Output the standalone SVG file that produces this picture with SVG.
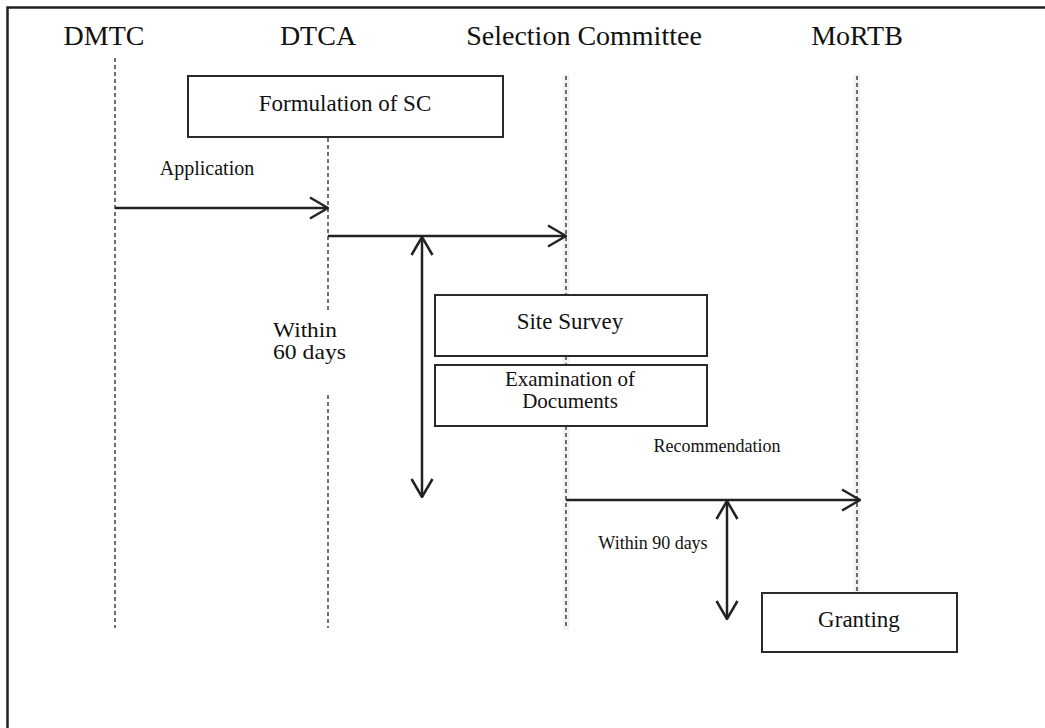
<svg xmlns="http://www.w3.org/2000/svg" width="1045" height="728" viewBox="0 0 1045 728">
  <defs>
    <marker id="chev" viewBox="0 0 20 24" refX="19" refY="12" markerWidth="20" markerHeight="24" markerUnits="userSpaceOnUse" orient="auto-start-reverse">
      <path d="M1,1.5 L19,12 L1,22.5" fill="none" stroke="#222" stroke-width="2.5"/>
    </marker>
  </defs>
  <style>
    .head { font-family: "Liberation Serif", "Times New Roman", serif; font-size: 28px; fill: #111; text-anchor: middle; }
    .lbl { font-family: "Liberation Serif", "Times New Roman", serif; fill: #111; text-anchor: middle; }
    .lbl-left { font-family: "Liberation Serif", "Times New Roman", serif; fill: #111; text-anchor: start; }
    .life { stroke: #333; stroke-width: 1.4; stroke-dasharray: 4 3; fill: none; }
    .halo { stroke: #f3f3f3; stroke-width: 7; fill: none; }
    .box { fill: #fff; stroke: #2a2a2a; stroke-width: 2; }
    .msg { stroke: #222; stroke-width: 2.5; fill: none; }
  </style>
  <rect width="1045" height="728" fill="#fff"/>

  <!-- frame (left and top edges) -->
  <path d="M7.5,728 L7.5,7.5 L1045,7.5" fill="none" stroke="#222" stroke-width="2.5"/>

  <!-- participant headers -->
  <g id="participants">
    <text class="head" x="104" y="45">DMTC</text>
    <text class="head" x="318" y="45">DTCA</text>
    <text class="head" x="584" y="45">Selection Committee</text>
    <text class="head" x="857" y="45">MoRTB</text>
  </g>

  <!-- lifelines -->
  <g id="lifelines">
    <line class="halo" x1="566" y1="74" x2="566" y2="630"/>
    <line class="halo" x1="857" y1="74" x2="857" y2="592"/>
    <line class="life" x1="115" y1="58" x2="115" y2="628"/>
    <line class="life" x1="328" y1="138" x2="328" y2="313"/>
    <line class="life" x1="328" y1="395" x2="328" y2="628"/>
    <line class="life" x1="566" y1="76" x2="566" y2="628"/>
    <line class="life" x1="857" y1="76" x2="857" y2="592"/>
  </g>

  <g id="formulation">
    <rect class="box" x="188" y="76" width="315" height="61"/>
    <text class="lbl" x="345" y="111" font-size="23">Formulation of SC</text>
  </g>

  <g id="site-survey">
    <rect class="box" x="435" y="295" width="272" height="61"/>
    <text class="lbl" x="570" y="329" font-size="23">Site Survey</text>
  </g>

  <g id="examination">
    <rect class="box" x="435" y="365" width="272" height="61"/>
    <text class="lbl" x="570" y="386" font-size="21">Examination of</text>
    <text class="lbl" x="570" y="408" font-size="21">Documents</text>
  </g>

  <g id="granting">
    <rect class="box" x="762" y="593" width="195" height="59"/>
    <text class="lbl" x="859" y="627" font-size="23">Granting</text>
  </g>

  <!-- messages and durations -->
  <g id="connectors">
    <line class="msg" x1="115" y1="208" x2="328" y2="208" marker-end="url(#chev)"/>
    <line class="msg" x1="328" y1="236" x2="566" y2="236" marker-end="url(#chev)"/>
    <line class="msg" x1="422" y1="237" x2="422" y2="497" marker-start="url(#chev)" marker-end="url(#chev)"/>
    <line class="msg" x1="566" y1="500" x2="860" y2="500" marker-end="url(#chev)"/>
    <line class="msg" x1="727" y1="501" x2="727" y2="619" marker-start="url(#chev)" marker-end="url(#chev)"/>
  </g>

  <g id="labels">
    <text class="lbl" x="207" y="175" font-size="20">Application</text>
    <text class="lbl-left" x="273" y="337" font-size="21" textLength="64" lengthAdjust="spacingAndGlyphs">Within</text>
    <text class="lbl-left" x="273" y="359" font-size="21" textLength="73" lengthAdjust="spacingAndGlyphs">60 days</text>
    <text class="lbl" x="717" y="452" font-size="18">Recommendation</text>
    <text class="lbl" x="653" y="549" font-size="18">Within 90 days</text>
  </g>
</svg>
